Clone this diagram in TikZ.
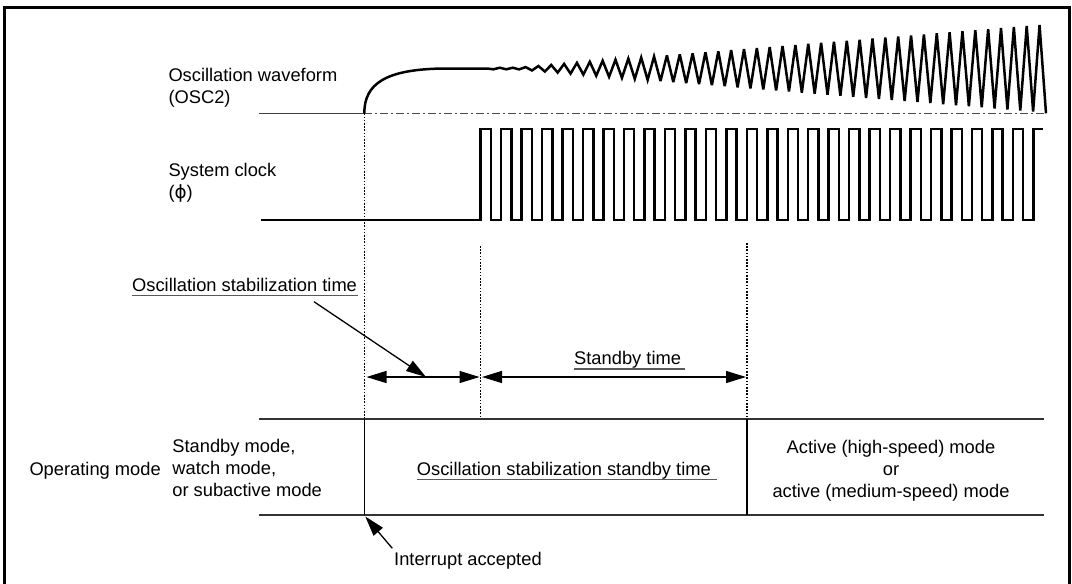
\documentclass[tikz,border=0pt]{standalone}
\usepackage{fontspec}
\setmainfont{Liberation Sans}
\newfontfamily\dvsans{DejaVu Sans}
\usetikzlibrary{arrows.meta}
\begin{document}
\begin{tikzpicture}[x=1pt,y=-1pt,
  txt/.style={inner sep=0pt, anchor=base west, font=\fontsize{18.3}{21.7}\selectfont},
  ctxt/.style={inner sep=0pt, anchor=base, font=\fontsize{18.3}{21.7}\selectfont},
  wave/.style={line width=2.5pt, line join=miter, miter limit=4},
  frame/.style={line width=2.7pt},
  baseln/.style={line width=1.3pt, black!75},
  dashdot/.style={line width=1.3pt, black!70, dash pattern=on 8pt off 3pt on 2pt off 3pt},
  dotline/.style={line width=1.3pt, dash pattern=on 1.6pt off 1.6pt},
  hline/.style={line width=1.8pt, black!80},
  vline/.style={line width=1.5pt},
  uline/.style={line width=1.3pt, black!65},
  dim/.style={line width=1.3pt, {Triangle[length=20pt,width=12pt]}-{Triangle[length=20pt,width=12pt]}},
  ptr/.style={line width=1.3pt, -{Triangle[length=20pt,width=12pt]}}
]
\useasboundingbox (0,0) rectangle (1072,584);
\clip (0,0) rectangle (1072,584);
% frame
\draw[frame] (4.6,600) -- (4.6,7.3) -- (1069.7,7.3) -- (1069.7,600);

% named coordinates
\coordinate (oscL) at (259.3,113.3);
\coordinate (oscS) at (364.3,113.3);
\coordinate (oscE) at (1046,113.3);
\coordinate (d1t) at (480.5,246);
\coordinate (d1b) at (480.5,419);
\coordinate (d2t) at (747,243);
\coordinate (d2b) at (747,419);
\coordinate (d0b) at (364.3,419);
\coordinate (v0b) at (364.3,515);
\coordinate (v2b) at (747,515);
\coordinate (h1L) at (259,419);
\coordinate (h1R) at (1044,419);
\coordinate (h2L) at (259,515);
\coordinate (h2R) at (1044,515);
\coordinate (a1L) at (366.5,377);
\coordinate (a1R) at (479.5,377);
\coordinate (a2L) at (482,377);
\coordinate (a2R) at (746,377);
\coordinate (pS) at (314,301.7);
\coordinate (pE) at (426,377);
\coordinate (iS) at (392.3,548.3);
\coordinate (iE) at (365.3,516.5);

% oscillation waveform
\draw[baseln] (oscL) -- (oscS);
\draw[dashdot] (oscS) -- (oscE);
\draw[wave] (oscS) .. controls (364.3,84) and (385,69) .. (445,68.5) -- (487,68.5)
  \foreach \j in {1,...,86} { -- ({487+6.425*\j},{68.5+(2*mod(\j,2)-1)*max(0.8,0.082*(487+6.425*\j-508))}) }
  -- (oscE);

% system clock
\draw[wave] (260.5,220) -- (480.7,220)
  \foreach \k in {0,...,26} { -- ++(0,-91) -- ++(10.24,0) -- ++(0,91) -- ++(10.23,0) }
  -- ++(0,-91) -- ++(10,0);

% dotted guides
\draw[dotline] (oscS) -- (d0b);
\draw[dotline] (d1t) -- (d1b);
\draw[dotline] (d2t) -- (d2b);

% operating mode table
\draw[hline] (h1L) -- (h1R);
\draw[hline] (h2L) -- (h2R);
\draw[vline] (d0b) -- (v0b);
\draw[vline] (d2b) -- (v2b);

% dimension arrows
\draw[dim] (a1L) -- (a1R);
\draw[dim] (a2L) -- (a2R);
\draw[ptr] (pS) -- (pE);
\draw[ptr] (iS) -- (iE);

% labels
\node[txt] (osc1) at (168.3,81.7) {Oscillation waveform};
\node[txt] (osc2) at (168.3,103.4) {(OSC2)};
\node[txt] (sys1) at (168.3,176.7) {System clock};
\node[txt] (sys2) at (168.3,198.4) {({\dvsans ϕ})};
\node[txt] (ost) at (132,291) {Oscillation stabilization time};
\draw[uline] ([yshift=-4.3pt]ost.base west) -- ([yshift=-4.3pt,xshift=1pt]ost.base east);
\node[txt] (sbt) at (574,364.7) {Standby time};
\draw[uline] ([yshift=-4.3pt]sbt.base west) -- ([yshift=-4.3pt,xshift=3.5pt]sbt.base east);
\node[txt] (opm) at (29.3,475) {Operating mode};
\node[txt] (m1) at (172.2,452.5) {Standby mode,};
\node[txt] (m2) at (172.2,474.7) {watch mode,};
\node[txt] (m3) at (172.2,496.9) {or subactive mode};
\node[txt] (osst) at (416.7,475.5) {Oscillation stabilization standby time};
\draw[uline] ([yshift=-4.3pt]osst.base west) -- ([yshift=-4.3pt,xshift=6pt]osst.base east);
\node[ctxt] (act1) at (891,453.3) {Active (high-speed) mode};
\node[ctxt] (act2) at (891,475.5) {or};
\node[ctxt] (act3) at (891,497.7) {active (medium-speed) mode};
\node[txt] (ia) at (394,565) {Interrupt accepted};
\end{tikzpicture}
\end{document}
